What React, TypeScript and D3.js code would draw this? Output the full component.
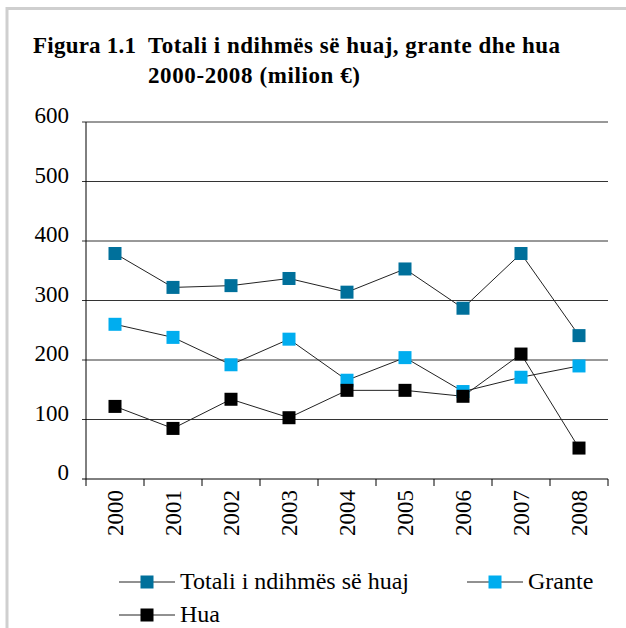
import React from "react";
import * as d3 from "d3";

const years = ["2000", "2001", "2002", "2003", "2004", "2005", "2006", "2007", "2008"];
const totali = [379, 322, 325, 337, 314, 353, 287, 379, 241];
const grante = [260, 238, 192, 235, 166, 204, 147, 171, 190];
const hua = [122, 85, 134, 103, 149, 149, 139, 210, 52];
const yTicks = [0, 100, 200, 300, 400, 500, 600];

const series = [
  { name: "Totali i ndihmës së huaj", values: totali, color: "#00709b" },
  { name: "Grante", values: grante, color: "#00adef" },
  { name: "Hua", values: hua, color: "#000000" },
];

const serif = { fontFamily: "'Liberation Serif', 'DejaVu Serif', serif" };

const App = () => {
  const left = 86, right = 608, top = 122, bottom = 479;
  const x = d3.scaleBand().domain(years).range([left, right]);
  const y = d3.scaleLinear().domain([0, 600]).range([bottom, top]);
  const cx = (d: string) => (x(d) as number) + x.bandwidth() / 2;
  const line = d3.line<number>().x((_, i) => cx(years[i])).y(d => y(d));
  const ms = 13;

  return (
    <svg width={626} height={628} style={{ position: "absolute", left: 0, top: 0 }}>
      <rect x={0} y={0} width={626} height={628} fill="#fff" />
      <path d="M7,630 V8.5 H630" fill="none" stroke="#cfcfcf" strokeWidth={3} />

      <text x={33} y={53} fontSize={23} fontWeight="bold" style={serif} textLength={103}>Figura 1.1</text>
      <text x={148} y={53} fontSize={23} fontWeight="bold" style={serif} textLength={412}>Totali i ndihmës së huaj, grante dhe hua</text>
      <text x={148} y={83} fontSize={23} fontWeight="bold" style={serif} textLength={212}>2000-2008 (milion €)</text>

      {yTicks.map(t => (
        <g key={t}>
          <line x1={left - 4} x2={right} y1={y(t)} y2={y(t)} stroke={t === 0 ? "#000" : "#333"} strokeWidth={1} />
          <text x={69} y={y(t)} dy="0.05em" fontSize={23} textAnchor="end" style={serif}>{t}</text>
        </g>
      ))}
      <line x1={left} x2={left} y1={top} y2={bottom} stroke="#000" />
      {years.concat(["end"]).map((d, i) => {
        const xx = left + i * x.bandwidth();
        return <line key={d} x1={xx} x2={xx} y1={bottom} y2={bottom + 7} stroke="#000" />;
      })}
      {years.map(d => (
        <text key={d} transform={`translate(${cx(d) + 8},${bottom + 11}) rotate(-90)`} fontSize={23} textAnchor="end" style={serif}>{d}</text>
      ))}

      {series.map(s => (
        <path key={s.name} d={line(s.values) as string} fill="none" stroke="#222" strokeWidth={1} />
      ))}
      {series.map(s => (
        <g key={s.name + "m"}>
          {s.values.map((v, i) => (
            <rect key={i} x={cx(years[i]) - ms / 2} y={y(v) - ms / 2} width={ms} height={ms} fill={s.color} />
          ))}
        </g>
      ))}

      {[
        { s: series[0], lx: 119, ly: 582 },
        { s: series[1], lx: 467, ly: 582 },
        { s: series[2], lx: 119, ly: 615 },
      ].map(({ s, lx, ly }) => (
        <g key={s.name + "l"}>
          <line x1={lx} x2={lx + 56} y1={ly} y2={ly} stroke="#222" />
          <rect x={lx + 28 - ms / 2} y={ly - ms / 2} width={ms} height={ms} fill={s.color} />
          <text x={lx + 61} y={ly + 7} fontSize={24} style={serif}>{s.name}</text>
        </g>
      ))}
    </svg>
  );
};

export default App;
